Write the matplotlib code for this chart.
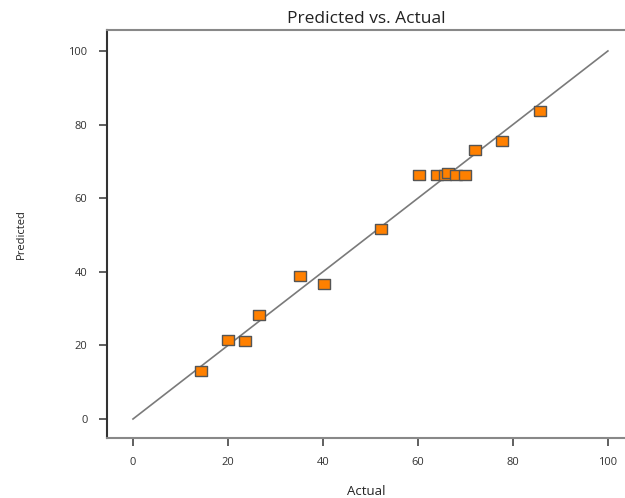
import numpy as np
import matplotlib
matplotlib.use("Agg")
import matplotlib.pyplot as plt

plt.rcParams['font.family'] = ['Open Sans', 'DejaVu Sans']

# Wartości
actual = [14.3, 20.0, 23.6, 26.5, 35.2, 40.2, 52.2, 60.2, 64.0, 65.7,
          66.3, 68.0, 69.9, 72.0, 77.7, 85.7]
predicted = [13.0, 21.5, 21.2, 28.3, 38.9, 36.7, 51.6, 66.3, 66.3, 66.3,
             66.8, 66.3, 66.3, 73.1, 75.5, 83.7]
ticks = [0, 20, 40, 60, 80, 100]

fig = plt.figure(figsize=(6.25, 4.98), dpi=100)
ax = fig.add_axes([0.1712, 0.1205, 0.8288, 0.8193])

# Linia y = x
ax.plot([0, 100], [0, 100], color='#7a7a7a', lw=1.2, zorder=1)

# Prostokątny znacznik (szerszy niż wyższy)
rect = [(-1.25, -1), (1.25, -1), (1.25, 1), (-1.25, 1), (-1.25, -1)]
ax.scatter(actual, predicted, marker=rect, s=80, facecolor='#ff8000',
           edgecolor='#555555', linewidths=1.0, zorder=3)

ax.set_xlim(-5.47, 103.6)
ax.set_ylim(-5.16, 105.7)
ax.set_xticks(ticks)
ax.set_yticks(ticks)

ax.spines['right'].set_visible(False)
ax.spines['top'].set_color('#888888')
ax.spines['bottom'].set_color('#888888')
ax.spines['left'].set_color('#333333')
for s in ['top', 'bottom', 'left']:
    ax.spines[s].set_linewidth(1.5)

ax.tick_params(axis='both', direction='out', length=6, width=1.2,
               color='#444444', labelsize=8, labelcolor='#333333', pad=8)

ax.set_title('Predicted vs. Actual', fontsize=12.5, color='#222222', pad=5)
ax.set_xlabel('Actual', fontsize=9.5, color='#222222', labelpad=12)
ax.set_ylabel('Predicted', fontsize=8, color='#222222', labelpad=30)

fig.savefig('out.png', dpi=100)
